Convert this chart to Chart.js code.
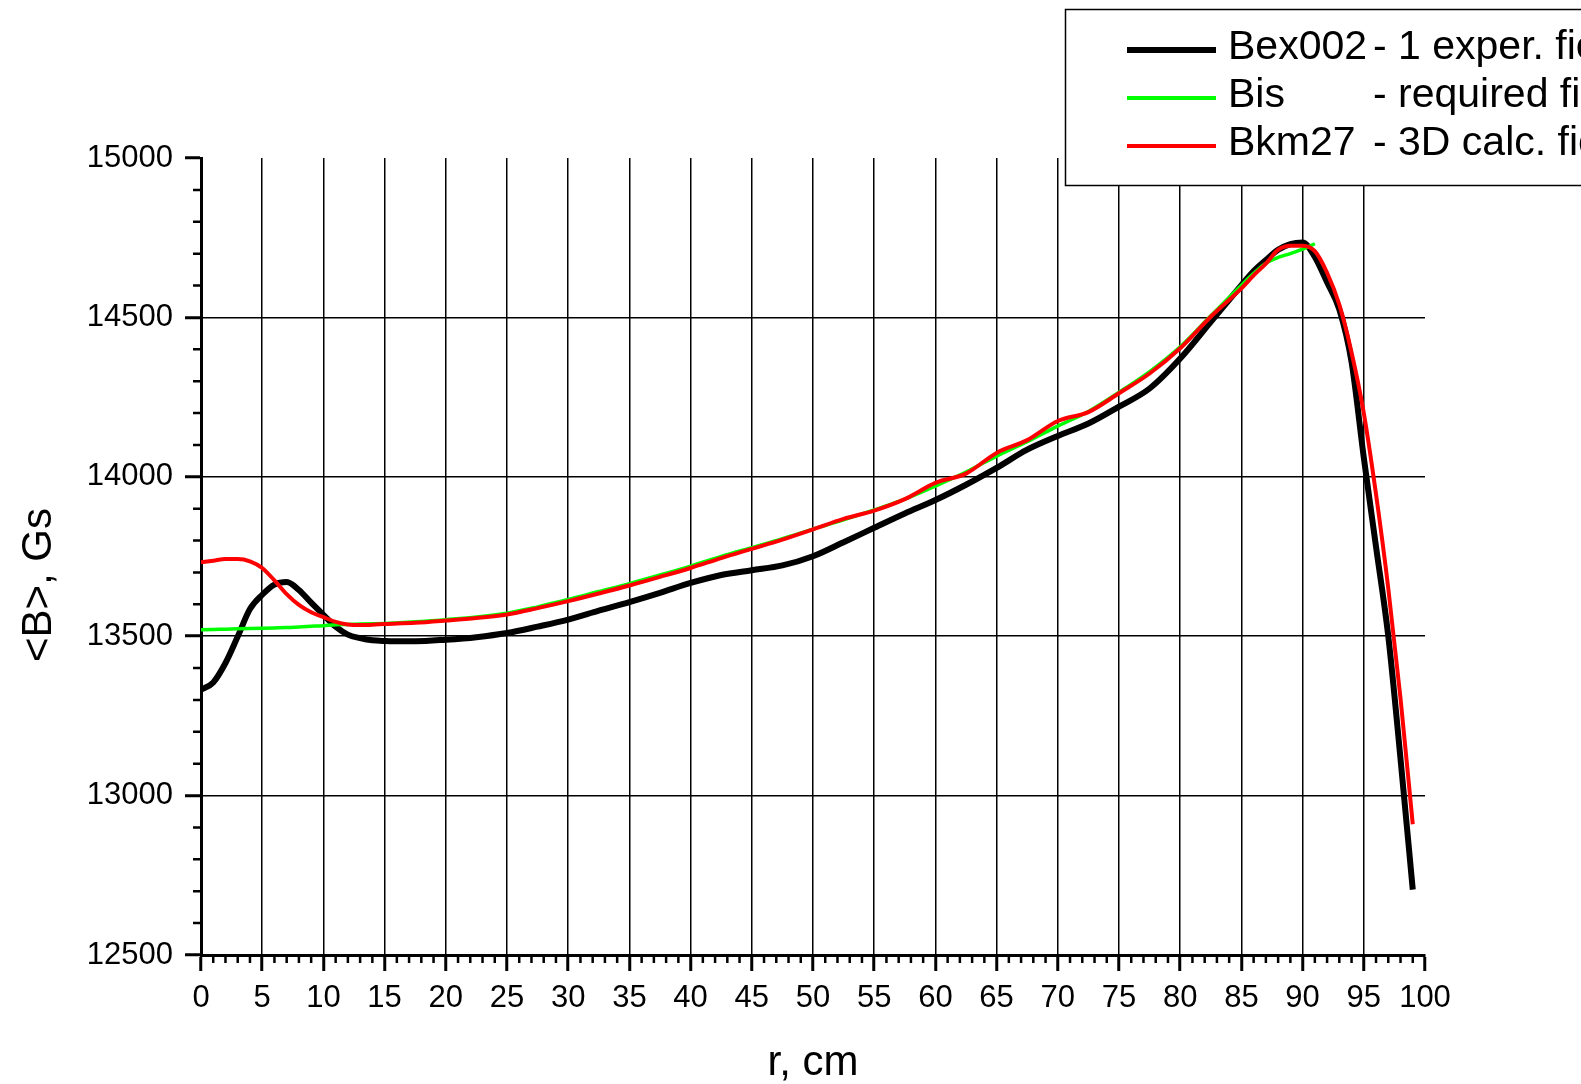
<!DOCTYPE html>
<html>
<head>
<meta charset="utf-8">
<script src="https://cdn.jsdelivr.net/npm/chart.js@4.4.1/dist/chart.umd.min.js"></script>
<style>
html,body{margin:0;padding:0;background:#fff;}
canvas{display:block;}
</style>
</head>
<body>
<canvas id="fieldChart" width="1581" height="1084"></canvas>
<script>
// r, cm
const radius = [
    0,1,2,3,4,5,6,7,8,9,10,11,12,13,14,15,
    17.5,20,22.5,25,27.5,30,32.5,35,37.5,40,42.5,45,47.5,50,52.5,55,57.5,60,
    62.5,65,67.5,70,72.5,75,77.5,80,82.5,85,
    86,87,88,89,90,91,92,93,94,95,96,97,98,99
];

// <B>, Gs
const bex002 = [
    13332,13355,13416,13499,13585,13630,13662,13670,13645,13605,13567,13530,13505,13494,13487,13485,
    13484,13489,13497,13510,13530,13552,13580,13607,13636,13667,13692,13707,13722,13751,13795,13840,13885,13927,
    13975,14028,14085,14128,14167,14220,14277,14371,14486,14601,
    14645,14680,14712,14730,14735,14690,14610,14525,14360,14060,13780,13500,13115,12705
];

const bis = [
    13520,13521,13522,13523,13524,13525,13526,13527,13529,13531,13533,13536,13537,13538,13539,13540,
    13545,13552,13560,13572,13592,13615,13640,13665,13692,13720,13750,13778,13806,13836,13865,13896,13930,13971,
    14015,14065,14110,14159,14205,14265,14330,14408,14505,14601,
    14638,14670,14688,14700,14714,14731,null,null,null,null,null,null,null,null
];

const bkm27 = [
    13732,13737,13742,13742,13735,13714,13675,13632,13598,13575,13560,13545,13537,13535,13536,13538,
    13542,13549,13557,13568,13588,13610,13634,13659,13686,13714,13745,13774,13803,13835,13868,13894,13930,13981,
    14010,14075,14115,14175,14203,14262,14324,14403,14502,14591,
    14632,14669,14712,14725,14725,14708,14640,14540,14390,14200,13945,13650,13305,12910
];

const seriesNames = ["Bex002","Bis","Bkm27"];
const seriesNotes = ["- 1 exper. field","- required field","- 3D calc. field"];
const yTitle = "<B>, Gs";

const FONT = "'Liberation Sans', Arial, sans-serif";
Chart.defaults.font.family = FONT;
Chart.defaults.color = "#000";

function toPoints(values){
    return radius.map((r,i)=>({x:r,y:values[i]})).filter(p=>p.y!==null);
}

// white page
const whiteBack = {
    id:"whiteBack",
    beforeDraw(chart){
        const ctx = chart.ctx;
        ctx.save();
        ctx.fillStyle = "#fff";
        ctx.fillRect(0,0,chart.width,chart.height);
        ctx.restore();
    }
};

// small ticks between the labelled ones + y title
const minorTicks = {
    id:"minorTicks",
    afterDraw(chart){
        const {ctx, scales:{x,y}} = chart;
        ctx.save();
        ctx.strokeStyle = "#000";
        ctx.lineWidth = 2.5;
        ctx.beginPath();
        for(let v=1; v<100; v++){
            if(v%5===0) continue;
            const px = x.getPixelForValue(v);
            ctx.moveTo(px, x.top);
            ctx.lineTo(px, x.top+8);
        }
        for(let v=12600; v<15000; v+=100){
            if(v%500===0) continue;
            const py = y.getPixelForValue(v);
            ctx.moveTo(y.right, py);
            ctx.lineTo(y.right-8, py);
        }
        ctx.stroke();

        // y axis title, a bit below the middle as in the original
        ctx.translate(39, 585);
        ctx.rotate(-Math.PI/2);
        ctx.font = "42px " + FONT;
        ctx.textAlign = "center";
        ctx.textBaseline = "middle";
        ctx.fillStyle = "#000";
        ctx.fillText(yTitle, 0, 0);
        ctx.restore();
    }
};

// legend box at the top right, cut by the page edge
const legendBox = {
    id:"legendBox",
    afterDraw(chart){
        const ctx = chart.ctx;
        ctx.save();
        ctx.fillStyle = "#fff";
        ctx.fillRect(1065,9,600,176);
        ctx.strokeStyle = "#000";
        ctx.lineWidth = 1.5;
        ctx.strokeRect(1065.5,9.5,600,176);
        ctx.font = "41px " + FONT;
        ctx.textBaseline = "middle";
        ctx.fillStyle = "#000";
        chart.data.datasets.forEach((ds,i)=>{
            const yy = 50 + i*48;
            ctx.strokeStyle = ds.borderColor;
            ctx.lineWidth = ds.legendWidth;
            ctx.beginPath();
            ctx.moveTo(1127,yy);
            ctx.lineTo(1216,yy);
            ctx.stroke();
            ctx.fillText(ds.label, 1228, yy-2);
            ctx.fillText(seriesNotes[i], 1373, yy-2);
        });
        ctx.restore();
    }
};

new Chart(document.getElementById("fieldChart"),{

    type:"line",

    data:{
        datasets:[
            {
                label:seriesNames[0],
                data:toPoints(bex002),
                borderColor:"#000000",
                borderWidth:6,
                legendWidth:6,
                pointRadius:0,
                cubicInterpolationMode:"monotone",
                order:3
            },
            {
                label:seriesNames[1],
                data:toPoints(bis),
                borderColor:"#00ff00",
                borderWidth:3.5,
                legendWidth:4,
                pointRadius:0,
                cubicInterpolationMode:"monotone",
                order:2
            },
            {
                label:seriesNames[2],
                data:toPoints(bkm27),
                borderColor:"#ff0000",
                borderWidth:4,
                legendWidth:4,
                pointRadius:0,
                cubicInterpolationMode:"monotone",
                order:1
            }
        ]
    },

    options:{
        responsive:false,
        animation:false,
        layout:{
            padding:{left:0,top:158,right:156,bottom:0}
        },
        plugins:{
            legend:{display:false},
            tooltip:{enabled:false}
        },
        scales:{
            x:{
                type:"linear",
                min:0,
                max:100,
                afterFit(s){ s.height = 129; },
                ticks:{
                    stepSize:5,
                    padding:9,
                    maxRotation:0,
                    font:{size:31},
                    callback:(v)=>String(v)
                },
                grid:{
                    color:(c)=> (c.tick && (c.tick.value===0 || c.tick.value===100)) ? "rgba(0,0,0,0)" : "#000",
                    lineWidth:1.5,
                    tickColor:"#000",
                    tickWidth:3,
                    tickLength:16
                },
                border:{display:true,color:"#000",width:3},
                title:{
                    display:true,
                    text:"r, cm",
                    font:{size:42,lineHeight:1},
                    padding:{top:0,bottom:0}
                }
            },
            y:{
                type:"linear",
                min:12500,
                max:15000,
                afterFit(s){ s.width = 201; },
                ticks:{
                    stepSize:500,
                    padding:12,
                    font:{size:31},
                    callback:(v)=>String(v)
                },
                grid:{
                    color:(c)=> (c.tick && (c.tick.value===12500 || c.tick.value===15000)) ? "rgba(0,0,0,0)" : "#000",
                    lineWidth:1.5,
                    tickColor:"#000",
                    tickWidth:3,
                    tickLength:16
                },
                border:{display:true,color:"#000",width:3}
            }
        }
    },

    plugins:[whiteBack,minorTicks,legendBox]

});
</script>
</body>
</html>
